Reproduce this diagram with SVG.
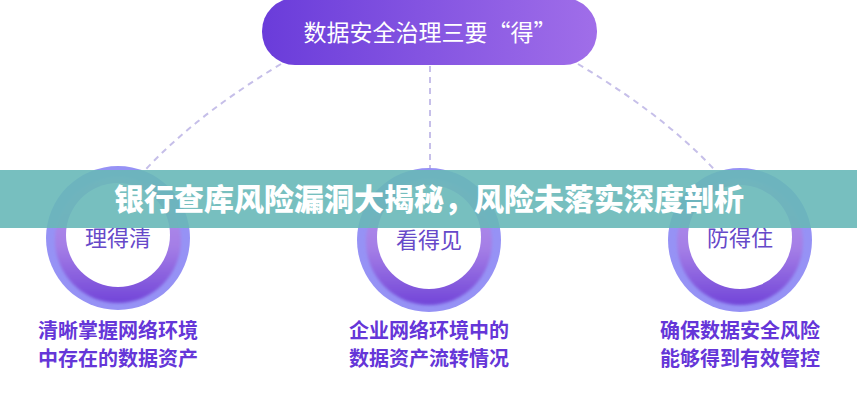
<svg xmlns="http://www.w3.org/2000/svg" width="857" height="400" viewBox="0 0 857 400">
<defs>
<linearGradient id="pillGrad" x1="0" y1="0" x2="1" y2="0">
<stop offset="0" stop-color="#6a3cda"/>
<stop offset="1" stop-color="#a06ee9"/>
</linearGradient>
<linearGradient id="ringGrad" x1="0" y1="0" x2="0" y2="1">
<stop offset="0" stop-color="#b596ec"/>
<stop offset="0.55" stop-color="#a47ee6"/>
<stop offset="1" stop-color="#7245d8"/>
</linearGradient>
<filter id="soft" x="-20%" y="-20%" width="140%" height="140%">
<feGaussianBlur stdDeviation="1.5"/>
</filter>
</defs>
<style>
.conn{fill:none;stroke:#c6bfe9;stroke-width:2;stroke-dasharray:6 5}
.outer{fill:#9692f5}
.mid{fill:url(#ringGrad)}
.inner{fill:#ffffff}
.ctext{font-family:"Noto Sans CJK SC","Noto Sans",sans-serif;font-size:22px;fill:#6649c9;text-anchor:middle}
.desc{font-family:"Noto Sans CJK SC","Noto Sans",sans-serif;font-size:20px;font-weight:700;fill:#6536d8;text-anchor:middle}
.title{font-family:"Noto Sans CJK SC","Noto Sans",sans-serif;font-size:23px;fill:#ffffff;text-anchor:middle}
.banner{font-family:"Noto Sans CJK SC","Noto Sans",sans-serif;font-size:30px;font-weight:900;fill:#ffffff;text-anchor:middle}
</style>
<rect width="857" height="400" fill="#ffffff"/>
<g id="connectors">
<path class="conn" d="M 281 64 Q 180 125 128 190"/>
<path class="conn" d="M 430 66 L 430 175"/>
<path class="conn" d="M 578 64 Q 680 125 732 190"/>
</g>
<g id="top">
<rect x="262" y="-2" width="335" height="67" rx="33" fill="url(#pillGrad)"/>
<text class="title" x="430" y="41">数据安全治理三要“得”</text>
</g>
<g id="node-left">
<circle class="outer" cx="118" cy="238" r="72"/>
<circle class="mid" cx="118" cy="240" r="63" filter="url(#soft)"/>
<circle class="inner" cx="118" cy="235" r="52"/>
<text class="ctext" x="118" y="246">理得清</text>
<text class="desc" x="118" y="338">清晰掌握网络环境</text>
<text class="desc" x="118" y="366">中存在的数据资产</text>
</g>
<g id="node-mid">
<circle class="outer" cx="429" cy="240" r="72"/>
<circle class="mid" cx="429" cy="242" r="63" filter="url(#soft)"/>
<circle class="inner" cx="429" cy="237" r="52"/>
<text class="ctext" x="429" y="248">看得见</text>
<text class="desc" x="429" y="338">企业网络环境中的</text>
<text class="desc" x="429" y="366">数据资产流转情况</text>
</g>
<g id="node-right">
<circle class="outer" cx="740" cy="240" r="72"/>
<circle class="mid" cx="740" cy="242" r="63" filter="url(#soft)"/>
<circle class="inner" cx="740" cy="237" r="52"/>
<text class="ctext" x="740" y="246">防得住</text>
<text class="desc" x="740" y="338">确保数据安全风险</text>
<text class="desc" x="740" y="366">能够得到有效管控</text>
</g>
<g id="banner">
<rect x="0" y="170" width="857" height="58" fill="#68b8b8" fill-opacity="0.9"/>
<text class="banner" x="429" y="210">银行查库风险漏洞大揭秘，风险未落实深度剖析</text>
</g>
</svg>
